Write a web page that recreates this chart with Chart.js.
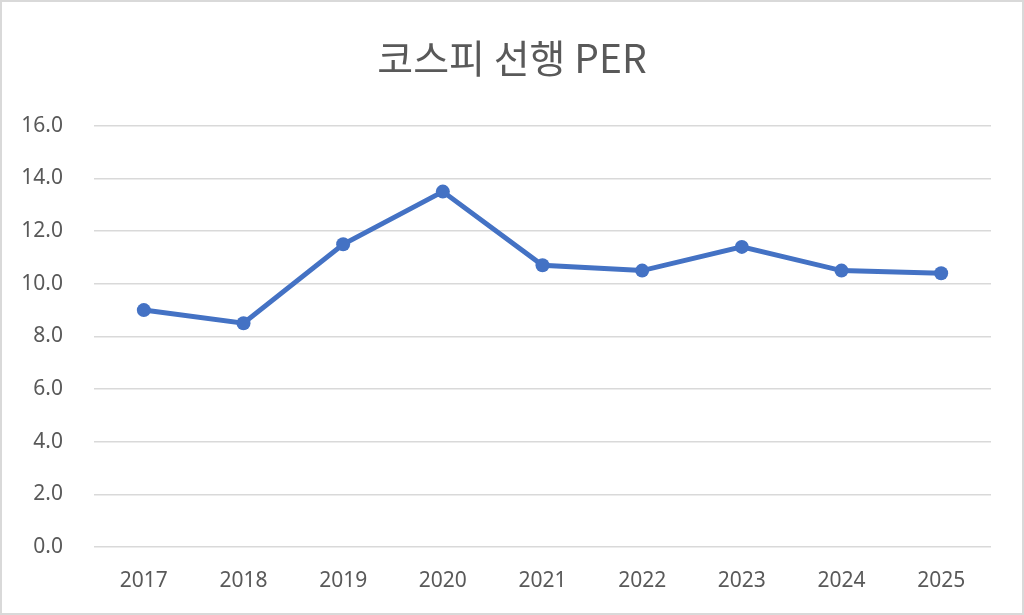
<!DOCTYPE html>
<html>
<head>
<meta charset="utf-8">
<script src="https://cdn.jsdelivr.net/npm/chart.js@4/dist/chart.umd.min.js"></script>
<style>
  html, body { margin: 0; padding: 0; background: #fff; }
  #wrap { width: 1024px; height: 615px; position: relative; }
</style>
</head>
<body>
<div id="wrap"><canvas id="perChart"></canvas></div>
<script>
// 코스피 선행 PER - yearly line
const years = ['2017', '2018', '2019', '2020', '2021', '2022', '2023', '2024', '2025'];
const perValues = [9.0, 8.5, 11.5, 13.5, 10.7, 10.5, 11.4, 10.5, 10.4];
const yTicks = [0, 2, 4, 6, 8, 10, 12, 14, 16];

const FONT = '"Noto Sans", "Noto Sans CJK KR", sans-serif';
const TEXT = '#595959';
const GRID = '#d9d9d9';

// white page + light frame like the exported chart
const frame = {
  id: 'frame',
  beforeDraw(chart) {
    const c = chart.ctx;
    c.save();
    c.fillStyle = '#fff';
    c.fillRect(0, 0, chart.width, chart.height);
    c.strokeStyle = GRID;
    c.lineWidth = 2;
    c.strokeRect(1, 1, chart.width - 2, chart.height - 2);
    c.restore();
  }
};

new Chart(document.getElementById('perChart'), {
  type: 'line',
  data: {
    labels: years,
    datasets: [{
      label: '코스피 선행 PER',
      data: perValues,
      borderColor: '#4472c4',
      backgroundColor: '#4472c4',
      borderWidth: 5,
      pointRadius: 7,
      pointHoverRadius: 7,
      pointBorderWidth: 0,
      tension: 0
    }]
  },
  options: {
    responsive: true,
    maintainAspectRatio: false,
    animation: false,
    layout: { padding: 0 },
    plugins: {
      legend: { display: false },
      tooltip: { enabled: false },
      title: {
        display: true,
        text: '코스피 선행 PER',
        color: TEXT,
        font: { family: '"Noto Sans CJK KR", "Noto Sans", sans-serif', size: 39, weight: 'normal' },
        padding: { top: 35, bottom: 44 }
      }
    },
    scales: {
      x: {
        offset: true,
        grid: { display: false, drawTicks: false },
        border: { display: false },
        ticks: { color: TEXT, font: { family: FONT, size: 21 }, padding: 21, maxRotation: 0 },
        afterFit: (s) => { s.height = 68; }
      },
      y: {
        min: 0,
        max: 16,
        afterBuildTicks: (s) => { s.ticks = yTicks.map(v => ({ value: v })); },
        grid: { color: GRID, lineWidth: 1.5, drawTicks: false },
        border: { display: false },
        ticks: {
          color: TEXT,
          font: { family: FONT, size: 21 },
          padding: 31,
          callback: (v) => Number(v).toFixed(1)
        },
        afterFit: (s) => { s.width = 94; }
      },
      // empty right-hand spacer so the title stays centred on the page
      yRight: {
        position: 'right',
        min: 0,
        max: 16,
        grid: { display: false, drawTicks: false },
        border: { display: false },
        ticks: { display: false },
        afterFit: (s) => { s.width = 33; }
      }
    }
  },
  plugins: [frame]
});
</script>
</body>
</html>
